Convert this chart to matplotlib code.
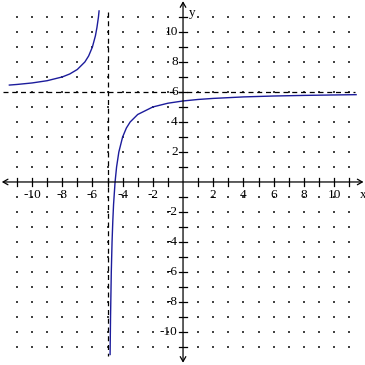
"""Rational function graph with asymptotes on a dotted grid."""
import numpy as np
import matplotlib
matplotlib.use("Agg")
import matplotlib.pyplot as plt

# curve points
left_x = [-11.5, -11, -10, -9, -8, -7.5, -7, -6.5, -6.25, -6, -5.8, -5.7, -5.6, -5.56]
left_y = [6.46, 6.5, 6.6, 6.75, 7.0, 7.2, 7.5, 8.0, 8.4, 9.0, 9.75, 10.3, 11.0, 11.4]
right_x = [-4.83, -4.8, -4.75, -4.7, -4.65, -4.6, -4.5, -4.4, -4.25, -4.0, -3.75,
           -3.5, -3.0, -2.0, -1.0, 0, 1, 2, 4, 6, 8, 10, 11.46]
right_y = [-11.5, -9.0, -6.0, -4.0, -2.6, -1.5, 0.0, 1.0, 2.0, 3.0, 3.6,
           4.0, 4.5, 5.0, 5.25, 5.4, 5.5, 5.57, 5.67, 5.73, 5.77, 5.8, 5.82]

asym_x = -5
asym_y = 6

grid_vals = list(range(-11, 12))
tick_labels = [v for v in range(-10, 11, 2) if v != 0]

fig = plt.figure(figsize=(3.65, 3.65), dpi=100)
ax = fig.add_axes([0, 0, 1, 1])
ax.set_xlim(-12.12, 12.05)
ax.set_ylim(-12.2, 12.13)
ax.axis('off')

# dotted grid
gx, gy = np.meshgrid(grid_vals, grid_vals)
mask = (gx != 0) & (gy != 0)
ax.scatter(gx[mask], gy[mask], s=0.6, color='#444444', marker='s', linewidths=0)

# axes with arrows
ax.annotate('', xy=(11.95, 0), xytext=(-12.0, 0),
            arrowprops=dict(arrowstyle='<->,head_length=0.35,head_width=0.2',
                            color='black', lw=0.9, shrinkA=0, shrinkB=0))
ax.annotate('', xy=(0, 12.05), xytext=(0, -12.05),
            arrowprops=dict(arrowstyle='<->,head_length=0.35,head_width=0.2',
                            color='black', lw=0.9, shrinkA=0, shrinkB=0))

# ticks
for v in grid_vals:
    if v == 0:
        continue
    ax.plot([v, v], [-0.27, 0.27], color='black', lw=0.9)
    ax.plot([-0.27, 0.27], [v, v], color='black', lw=0.9)

font = dict(family=['Liberation Serif', 'DejaVu Serif'], size=9.5)
for v in tick_labels:
    ax.text(v, -0.85, str(v), ha='center', va='center', **font)
    ax.text(-0.35, v, str(v), ha='right', va='center', **font)
ax.text(11.9, -0.85, 'x', ha='center', va='center', **font)
ax.text(0.6, 11.25, 'y', ha='center', va='center', **font)

# asymptotes
ax.plot([-11.95, 11.4], [asym_y, asym_y], color='black', lw=0.9, ls=(0, (4, 3)))
ax.plot([asym_x, asym_x], [11.3, -11.6], color='black', lw=0.9, ls=(0, (4, 3)))

# curve
ax.plot(left_x, left_y, color='#1c1c9c', lw=1.0)
ax.plot(right_x, right_y, color='#1c1c9c', lw=1.0)

fig.savefig("out.png", dpi=100)
